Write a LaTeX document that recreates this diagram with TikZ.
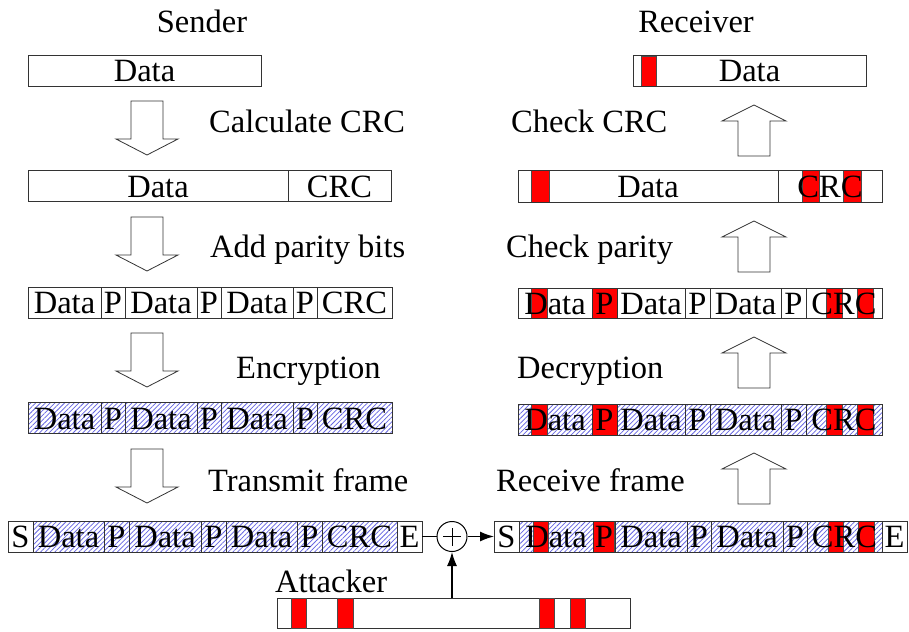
\documentclass[tikz,border=0pt]{standalone}
\usepackage{fontspec}
\setmainfont{Liberation Serif}
\usetikzlibrary{arrows.meta,patterns.meta}
\definecolor{hatchblue}{RGB}{100,100,225}
\definecolor{mred}{RGB}{255,0,0}
\newcommand\bigfont{\fontsize{32.5}{39}\selectfont}
\begin{document}
\begin{tikzpicture}[x=1pt,y=-1pt,
  cell/.style={draw=black!80,line width=0.8pt,inner sep=0pt,outer sep=0pt,anchor=west,
    font=\bigfont,text height=22pt,text depth=0pt,minimum height=31pt},
  hatch/.style={pattern={Lines[angle=45,distance=3.4pt,line width=0.75pt]},pattern color=hatchblue},
  redmark/.style={fill=mred,draw=black!70,line width=0.5pt},
  lbl/.style={font=\bigfont,anchor=base west,inner sep=0pt},
  ttl/.style={font=\bigfont,anchor=base,inner sep=0pt},
  blockarrow/.style={draw=black!80,line width=0.8pt,fill=white},
  conn/.style={line width=1.3pt,draw=black},
  tip/.style={-{Latex[length=14pt,width=10pt]}}]
\useasboundingbox (0,0) rectangle (909,631);

% ---------- titles and labels
\node[ttl] (sender) at (202,33) {Sender};
\node[ttl] (receiver) at (696,33) {Receiver};
\node[lbl] (calc) at (209,133) {Calculate CRC};
\node[lbl] (addp) at (210,257) {Add parity bits};
\node[lbl] (encr) at (236,378) {Encryption};
\node[lbl] (tx) at (208,491) {Transmit frame};
\node[lbl] (chkcrc) at (511,133) {Check CRC};
\node[lbl] (chkpar) at (506,257) {Check parity};
\node[lbl] (decr) at (517,378) {Decryption};
\node[lbl] (rx) at (496,491) {Receive frame};
\node[lbl] (attl) at (275,592) {Attacker};

% ---------- sender side
\node[cell,minimum width=233pt] (la1) at (28,71) {Data};
\foreach \a/\b/\txt [count=\i] in {28/288/Data,288/391/CRC}
  \node[cell,minimum width={(\b-\a)*1pt}] (lb\i) at (\a,186) {\txt};
\foreach \a/\b/\txt [count=\i] in {28/101/Data,101/125/P,125/197/Data,197/221/P,221/293/Data,293/317/P,317/392/CRC}
  \node[cell,minimum width={(\b-\a)*1pt}] (lc\i) at (\a,302.5) {\txt};
\foreach \a/\b/\txt [count=\i] in {28/101/Data,101/125/P,125/197/Data,197/221/P,221/293/Data,293/317/P,317/392/CRC}
  \node[cell,hatch,minimum width={(\b-\a)*1pt}] (ld\i) at (\a,418) {\txt};
\foreach \a/\b/\txt [count=\i] in {33/104/Data,104/129/P,129/201/Data,201/226/P,226/297/Data,297/322/P,322/397/CRC}
  \node[cell,hatch,minimum width={(\b-\a)*1pt}] (le\i) at (\a,536.5) {\txt};
\node[cell,minimum width=25pt] (les) at (8,536.5) {S};
\node[cell,minimum width=25pt] (lee) at (397,536.5) {E};

% down block arrows
\foreach \y in {101,217,333,449}
  \draw[blockarrow] (131,\y) -- (163,\y) -- (163,\y+38) -- (178,\y+38) -- (147,\y+54)
    -- (116,\y+38) -- (131,\y+38) -- cycle;

% ---------- receiver side
\fill[redmark] (641,56) rectangle (656,86);
\node[cell,minimum width=233pt] (ra1) at (633,71) {Data};

\foreach \a/\b in {531/549,802/819,843/861}
  \fill[redmark] (\a,170) rectangle (\b,202);
\foreach \a/\b/\txt [count=\i] in {518/778/Data,778/882/CRC}
  \node[cell,minimum width={(\b-\a)*1pt},minimum height=32pt] (rb\i) at (\a,186) {\txt};

\foreach \a/\b in {531/547,592/617,826/842,857/873}
  \fill[redmark] (\a,288) rectangle (\b,318);
\foreach \a/\b/\txt [count=\i] in {518/592/Data,592/617/P,617/685/Data,685/710/P,710/781/Data,781/806/P,806/882/CRC}
  \node[cell,minimum width={(\b-\a)*1pt},minimum height=30pt] (rc\i) at (\a,303) {\txt};

\fill[hatch] (518,404) rectangle (882,435);
\foreach \a/\b in {531/547,592/617,826/842,857/873}
  \fill[redmark] (\a,404) rectangle (\b,435);
\foreach \a/\b/\txt [count=\i] in {518/592/Data,592/617/P,617/685/Data,685/710/P,710/781/Data,781/806/P,806/882/CRC}
  \node[cell,minimum width={(\b-\a)*1pt}] (rd\i) at (\a,419.5) {\txt};

\fill[hatch] (519,521) rectangle (882,552);
\foreach \a/\b in {533/548,593/614,828/843,858/874}
  \fill[redmark] (\a,521) rectangle (\b,552);
\node[cell,minimum width=25pt] (res) at (494,536.5) {S};
\foreach \a/\b/\txt [count=\i] in {519/593/Data,593/615/P,615/687/Data,687/711/P,711/783/Data,783/807/P,807/882/CRC}
  \node[cell,minimum width={(\b-\a)*1pt}] (re\i) at (\a,536.5) {\txt};
\node[cell,minimum width=25pt] (ree) at (882,536.5) {E};

% up block arrows
\foreach \y in {105,221,337,453}
  \draw[blockarrow] (754,\y) -- (786,\y+16) -- (770,\y+16) -- (770,\y+51) -- (738,\y+51)
    -- (738,\y+16) -- (722,\y+16) -- cycle;

% ---------- attacker and XOR
\node[cell,minimum width=353pt,minimum height=30pt] (att) at (277,613) {};
\foreach \a/\b in {291/306,337/353,539/554,570/585}
  \fill[redmark] (\a,598) rectangle (\b,628);

\node[circle,draw=black,line width=1pt,minimum size=30pt,inner sep=0pt,
  path picture={\draw[line width=0.8pt] ([xshift=-9pt]path picture bounding box.center) -- ([xshift=9pt]path picture bounding box.center);
                \draw[line width=0.8pt] ([yshift=-9pt]path picture bounding box.center) -- ([yshift=9pt]path picture bounding box.center);}]
  (xor) at (452,536.5) {};

\draw[conn] (lee) -- (xor);
\draw[conn,tip] (xor) -- (res);
\draw[conn,tip] (att.north -| xor) -- (xor);
\end{tikzpicture}
\end{document}
